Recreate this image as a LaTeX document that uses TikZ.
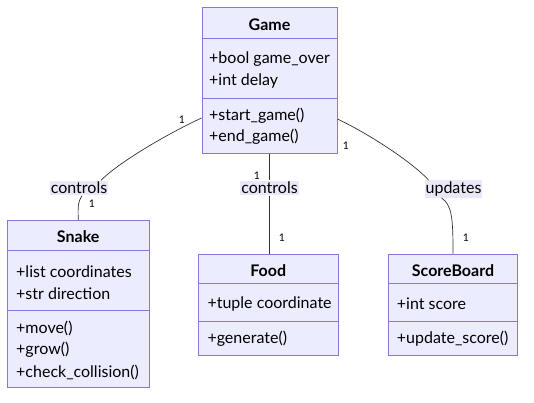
\documentclass[tikz,border=0pt]{standalone}
\usepackage{fontspec}
\setmainfont{Lato}
\usetikzlibrary{positioning}
\definecolor{boxfill}{HTML}{ECECFF}
\definecolor{boxdraw}{HTML}{9370DB}
\definecolor{relline}{HTML}{333333}
\definecolor{lblfill}{HTML}{E8E8F8}

\begin{document}
\begin{tikzpicture}[x=1pt, y=-1pt,
  classbox/.style={draw=boxdraw, fill=boxfill, line width=1pt, inner sep=0pt},
  classname/.style={font=\fontsize{16}{19}\selectfont\bfseries, inner sep=0pt},
  member/.style={anchor=west, font=\fontsize{16}{19}\selectfont, inner sep=0pt},
  divider/.style={draw=boxdraw, line width=1pt},
  rel/.style={draw=relline, line width=0.7pt},
  edgelbl/.style={fill=lblfill, font=\fontsize{16}{19}\selectfont, inner xsep=1pt, inner ysep=1.5pt},
  mult/.style={font=\fontsize{10.5}{12}\selectfont, inner sep=0pt}
]
\useasboundingbox (0,0) rectangle (534,402);

\node[classbox, minimum width=135, minimum height=146] (game) at (269.5,80) {};
\draw[divider] (202,38) -- (337,38);
\draw[divider] (202,98) -- (337,98);
\node[classname] (gameName) at (269.5,25) {Game};
\node[member] (gameA1) at (209,59) {+bool game\_over};
\node[member] (gameA2) at (209,81) {+int delay};
\node[member] (gameM1) at (209,116) {+start\_game()};
\node[member] (gameM2) at (209,137) {+end\_game()};

\node[classbox, minimum width=141.7, minimum height=167] (snake) at (78.2,304) {};
\draw[divider] (7.35,250) -- (149.05,250);
\draw[divider] (7.35,310.7) -- (149.05,310.7);
\node[classname] (snakeName) at (78.2,237) {Snake};
\node[member] (snakeA1) at (16,272) {+list coordinates};
\node[member] (snakeA2) at (16,294) {+str direction};
\node[member] (snakeM1) at (16,328) {+move()};
\node[member] (snakeM2) at (16,350) {+grow()};
\node[member] (snakeM3) at (16,372) {+check\_collision()};

\node[classbox, minimum width=140, minimum height=101] (food) at (268.3,304.5) {};
\draw[divider] (198.3,283.5) -- (338.3,283.5);
\draw[divider] (198.3,321.7) -- (338.3,321.7);
\node[classname] (foodName) at (268.3,270.7) {Food};
\node[member] (foodA1) at (207.3,304) {+tuple coordinate};
\node[member] (foodM1) at (207.3,339) {+generate()};

\node[classbox, minimum width=129.4, minimum height=101] (score) at (453,304.5) {};
\draw[divider] (388.3,283.5) -- (517.7,283.5);
\draw[divider] (388.3,321.7) -- (517.7,321.7);
\node[classname] (scoreName) at (453,270.7) {ScoreBoard};
\node[member] (scoreA1) at (396.7,304) {+int score};
\node[member] (scoreM1) at (396.7,339) {+update\_score()};

\node[edgelbl] (ctrlSnake) at (79,188) {controls};
\node[edgelbl] (ctrlFood) at (269.5,188) {controls};
\node[edgelbl] (upd) at (453.5,189) {updates};

\draw[rel] ([yshift=-38]game.west) .. controls (165,135) and (118,163) .. ([xshift=22]ctrlSnake.north);
\draw[rel] ([xshift=3]ctrlSnake.south) .. controls (78,203) .. (snake.north);
\draw[rel] (game.south) -- (ctrlFood.north);
\draw[rel] (ctrlFood.south) -- (ctrlFood.south |- food.north);
\draw[rel] ([yshift=-39]game.east) .. controls (375,137) and (415,165) .. ([xshift=-25]upd.north);
\draw[rel] ([xshift=-12]upd.south) .. controls (452,205) and (453,218) .. (score.north);

\node[mult] (m1) at (182,120) {1};
\node[mult] (m2) at (92,204) {1};
\node[mult] (m3) at (257,176) {1};
\node[mult] (m4) at (282,238) {1};
\node[mult] (m5) at (346,146) {1};
\node[mult] (m6) at (466,238) {1};
\end{tikzpicture}
\end{document}
